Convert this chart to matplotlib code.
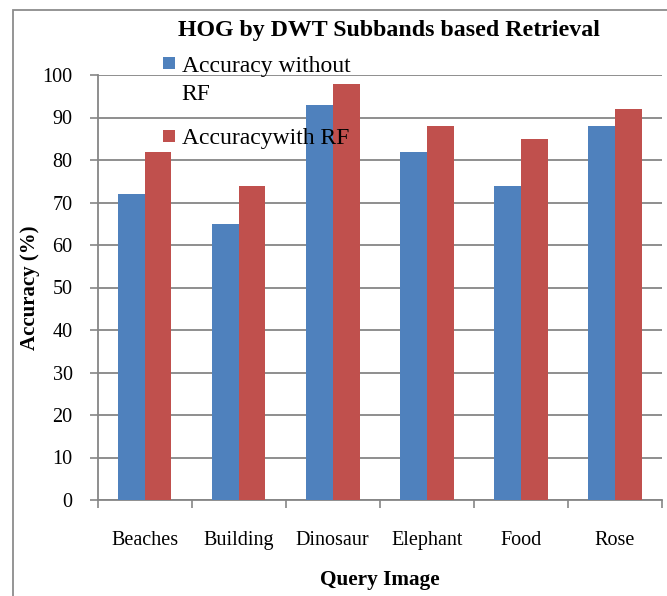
import matplotlib
matplotlib.use("Agg")
import matplotlib.pyplot as plt
import numpy as np
from matplotlib.patches import Rectangle

categories = ["Beaches", "Building", "Dinosaur", "Elephant", "Food", "Rose"]
acc_without_rf = [72, 65, 93, 82, 74, 88]
acc_with_rf = [82, 74, 98, 88, 85, 92]
series_labels = ["Accuracy without\nRF", "Accuracywith RF"]
y_ticks = [0, 10, 20, 30, 40, 50, 60, 70, 80, 90, 100]

W, H = 667, 596
plt.rcParams["font.family"] = ["Liberation Serif", "DejaVu Serif"]
fig = plt.figure(figsize=(W / 100, H / 100), dpi=100)

def fx(x):
    return x / W

def fy(y):
    return 1 - y / H

# outer frame (extends beyond image at right/bottom)
fig.patches.append(Rectangle((fx(13), -0.2), 1.3, fy(10) + 0.2, transform=fig.transFigure,
                             fill=False, edgecolor="#8c8c8c", linewidth=1.3))

ax = fig.add_axes([fx(97.5), fy(500), fx(662) - fx(97.5), fy(75) - fy(500)])
grid_c = "#868686"
blue = "#4F81BD"
red = "#C0504D"

x = np.arange(len(categories))
bw = 0.285
ax.bar(x - bw / 2, acc_without_rf, width=bw, color=blue, zorder=3)
ax.bar(x + bw / 2, acc_with_rf, width=bw, color=red, zorder=3)

ax.set_xlim(-0.5, len(categories) - 0.5)
ax.set_ylim(0, 100)
ax.set_yticks(y_ticks)
ax.set_yticklabels([str(v) for v in y_ticks], fontsize=14.5)
ax.set_xticks(np.arange(-0.5, len(categories), 1.0))
ax.set_xticklabels([])
ax.set_xticks(x, minor=True)
ax.set_xticklabels(categories, minor=True, fontsize=14.5)
ax.tick_params(axis="x", which="minor", length=0, pad=22)
ax.tick_params(axis="x", which="major", length=6, width=1.2, color=grid_c)
ax.tick_params(axis="y", length=6, width=1.2, color=grid_c, pad=12)

ax.yaxis.grid(True, color=grid_c, linewidth=1.3, zorder=0)
ax.set_axisbelow(True)
for s in ["top", "right"]:
    ax.spines[s].set_visible(False)
for s in ["left", "bottom"]:
    ax.spines[s].set_color(grid_c)
    ax.spines[s].set_linewidth(1.3)

# axis labels
fig.text(fx(30), fy(287.5), "Accuracy (%)", rotation=90, ha="center", va="center",
         fontsize=15, fontweight="bold")
fig.text(fx(380), fy(580), "Query Image", ha="center", va="center",
         fontsize=15.3, fontweight="bold")

# title
fig.text(fx(389), fy(36), "HOG by DWT Subbands based Retrieval", ha="center", va="baseline",
         fontsize=17.2, fontweight="bold")

# legend
sq = 12
line_gap = 28.3
for (top, col, lab, base) in [(57.3, blue, series_labels[0], 71.7), (130, red, series_labels[1], 144)]:
    fig.patches.append(Rectangle((fx(163.3), fy(top + sq)), sq / W, sq / H,
                                 transform=fig.transFigure, facecolor=col, edgecolor="none"))
    for i, line in enumerate(lab.split("\n")):
        fig.text(fx(181.7), fy(base + i * line_gap), line, ha="left", va="baseline",
                 fontsize=17)

fig.savefig("out.png", dpi=100)
